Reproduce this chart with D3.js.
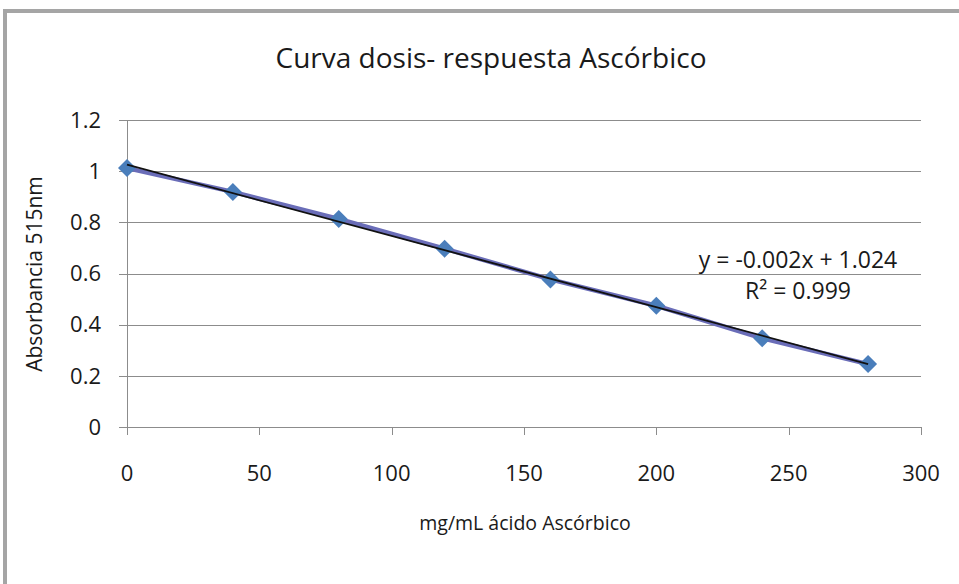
<!DOCTYPE html>
<html>
<head>
  <meta charset="utf-8">
  <title>Curva dosis- respuesta Ascórbico</title>
  <script src="https://d3js.org/d3.v7.min.js"></script>
  <style>
    body { margin: 0; background: white; }
    svg { display: block; font-family: "Open Sans", "Liberation Sans", sans-serif; }
  </style>
</head>
<body>
<script>
  // Data
  var concentrations = [0, 40, 80, 120, 160, 200, 240, 280];
  var absorbance = [1.012, 0.919, 0.813, 0.697, 0.577, 0.474, 0.347, 0.246];
  var xTicks = [0, 50, 100, 150, 200, 250, 300];
  var yTicks = [0, 0.2, 0.4, 0.6, 0.8, 1, 1.2];
  var equationLines = ["y = -0.002x + 1.024", "R² = 0.999"];

  var width = 959, height = 584;
  var plot = {left: 127, right: 921, top: 120, bottom: 427};

  var svg = d3.select("body").append("svg")
      .attr("width", width)
      .attr("height", height);

  // Frame
  svg.append("rect").attr("width", width).attr("height", height).attr("fill", "white");
  svg.append("line").attr("x1", 3).attr("x2", width).attr("y1", 11).attr("y2", 11)
     .attr("stroke", "#a5a5a5").attr("stroke-width", 4);
  svg.append("line").attr("x1", 5).attr("x2", 5).attr("y1", 9).attr("y2", height)
     .attr("stroke", "#a5a5a5").attr("stroke-width", 4);

  // Scales
  var x = d3.scaleLinear().domain([0, 300]).range([plot.left, plot.right]);
  var y = d3.scaleLinear().domain([0, 1.2]).range([plot.bottom, plot.top]);

  // Gridlines
  svg.append("g").selectAll("line")
     .data(yTicks).enter().append("line")
     .attr("x1", plot.left - 8).attr("x2", plot.right)
     .attr("y1", function(d) { return Math.round(y(d)) + 0.5; })
     .attr("y2", function(d) { return Math.round(y(d)) + 0.5; })
     .attr("stroke", "#8c8c8c").attr("stroke-width", 1);

  // Axis lines
  svg.append("line").attr("x1", plot.left + 0.5).attr("x2", plot.left + 0.5)
     .attr("y1", plot.top).attr("y2", plot.bottom + 8)
     .attr("stroke", "#8c8c8c");
  svg.append("g").selectAll("line")
     .data(xTicks).enter().append("line")
     .attr("x1", function(d) { return Math.round(x(d)) + 0.5; })
     .attr("x2", function(d) { return Math.round(x(d)) + 0.5; })
     .attr("y1", plot.bottom).attr("y2", plot.bottom + 8)
     .attr("stroke", "#8c8c8c");

  // Tick labels
  svg.append("g").selectAll("text")
     .data(yTicks).enter().append("text")
     .attr("x", 101).attr("y", function(d) { return y(d); })
     .attr("dy", "0.35em")
     .attr("text-anchor", "end")
     .attr("font-size", 22).attr("fill", "#1a1a1a")
     .text(function(d) { return d3.format("")(d); });
  svg.append("g").selectAll("text")
     .data(xTicks).enter().append("text")
     .attr("x", function(d) { return x(d); }).attr("y", 481)
     .attr("text-anchor", "middle")
     .attr("font-size", 22).attr("fill", "#1a1a1a")
     .text(function(d) { return d; });

  // Titles
  svg.append("text").attr("x", 491).attr("y", 68)
     .attr("text-anchor", "middle").attr("font-size", 28).attr("fill", "#1a1a1a")
     .text("Curva dosis- respuesta Ascórbico");
  svg.append("text").attr("x", 525).attr("y", 530)
     .attr("text-anchor", "middle").attr("font-size", 19.5).attr("fill", "#1a1a1a")
     .text("mg/mL ácido Ascórbico");
  svg.append("text").attr("transform", "translate(42,274) rotate(-90)")
     .attr("text-anchor", "middle").attr("font-size", 21).attr("fill", "#1a1a1a")
     .text("Absorbancia 515nm");

  // Series
  var pts = concentrations.map(function(c, i) { return {c: c, a: absorbance[i]}; });
  svg.append("path").datum(pts)
     .attr("fill", "none").attr("stroke", "#6a6db8").attr("stroke-width", 4.5)
     .attr("d", d3.line().x(function(d) { return x(d.c); }).y(function(d) { return y(d.a); }));

  svg.append("g").selectAll("path")
     .data(pts).enter().append("path")
     .attr("transform", function(d) { return "translate(" + x(d.c) + "," + y(d.a) + ")"; })
     .attr("d", "M0,-9L9,0L0,9L-9,0Z")
     .attr("fill", "#4a7ebb");

  // Linear trendline (least squares)
  var mx = d3.mean(concentrations), my = d3.mean(absorbance);
  var sxy = d3.sum(pts, function(d) { return (d.c - mx) * (d.a - my); });
  var sxx = d3.sum(pts, function(d) { return (d.c - mx) * (d.c - mx); });
  var slope = sxy / sxx, icpt = my - slope * mx;
  var ends = d3.extent(concentrations);
  svg.append("line")
     .attr("x1", x(ends[0])).attr("y1", y(icpt + slope * ends[0]))
     .attr("x2", x(ends[1])).attr("y2", y(icpt + slope * ends[1]))
     .attr("stroke", "#111").attr("stroke-width", 1.8);

  // Equation label
  svg.append("g").selectAll("text")
     .data(equationLines).enter().append("text")
     .attr("x", 798).attr("y", function(d, i) { return 268 + i * 31; })
     .attr("text-anchor", "middle").attr("font-size", 23).attr("fill", "#1a1a1a")
     .text(function(d) { return d; });
</script>
</body>
</html>
